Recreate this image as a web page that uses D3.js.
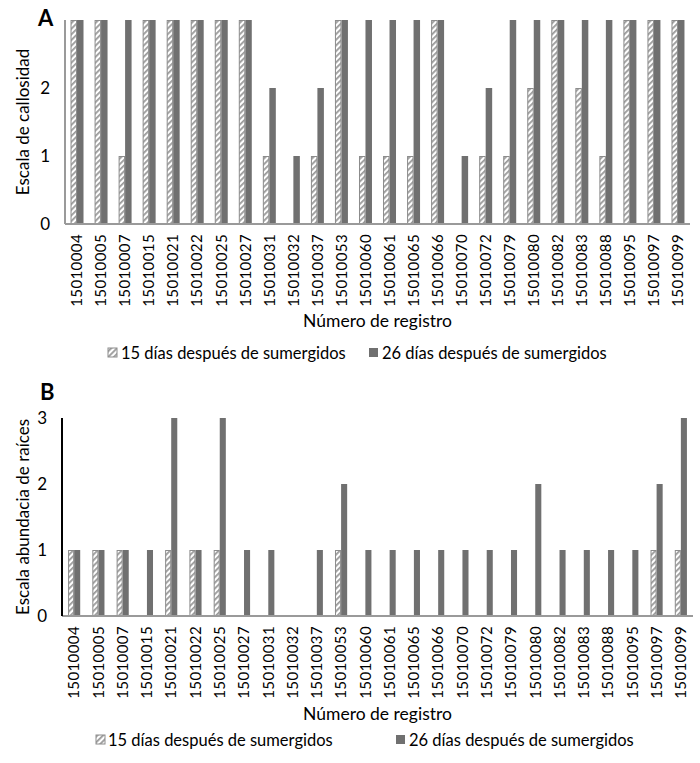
<!DOCTYPE html>
<html><head><meta charset="utf-8">
<script src="https://cdn.jsdelivr.net/npm/d3@7"></script>
<style>body{margin:0;background:#fff}svg{display:block}text{font-family:Lato,"Open Sans",sans-serif}</style>
</head><body>
<svg id="c" width="700" height="763"></svg>
<script>
const categories = ["15010004","15010005","15010007","15010015","15010021","15010022","15010025","15010027","15010031","15010032","15010037","15010053","15010060","15010061","15010065","15010066","15010070","15010072","15010079","15010080","15010082","15010083","15010088","15010095","15010097","15010099"];
const seriesNames = ["15 días después de sumergidos","26 días después de sumergidos"];
const callus15 = [3,3,1,3,3,3,3,3,1,0,1,3,1,1,1,3,0,1,1,2,3,2,1,3,3,3];
const callus26 = [3,3,3,3,3,3,3,3,2,1,2,3,3,3,3,3,1,2,3,3,3,3,3,3,3,3];
const roots15 = [1,1,1,0,1,1,1,0,0,0,0,1,0,0,0,0,0,0,0,0,0,0,0,0,1,1];
const roots26 = [1,1,1,1,3,1,3,1,1,0,1,2,1,1,1,1,1,1,1,2,1,1,1,1,2,3];
const ticksA = [0,1,2];
const ticksB = [0,1,2,3];

const svg = d3.select("#c");
const dark = "#707070";
const defs = svg.append("defs");
const pat = defs.append("pattern").attr("id","hatch").attr("patternUnits","userSpaceOnUse")
  .attr("width",4).attr("height",4).attr("patternTransform","rotate(45)");
pat.append("rect").attr("width",4).attr("height",4).attr("fill","#fff");
pat.append("rect").attr("width",1.8).attr("height",4).attr("fill","#9a9a9a");

function panel(cfg){
  const g = svg.append("g");
  const x0 = d3.scaleBand().domain(categories).range([cfg.left,cfg.right]).paddingInner(cfg.pad).paddingOuter(cfg.pad/2);
  const x1 = d3.scaleBand().domain([0,1]).range([0,x0.bandwidth()]);
  const y = d3.scaleLinear().domain([0,3]).range([cfg.bottom,cfg.top]);
  const rows = categories.map((c,i)=>({c, v:[cfg.s15[i], cfg.s26[i]]}));
  const grp = g.selectAll("g.cat").data(rows).join("g").attr("transform",d=>`translate(${x0(d.c)},0)`);
  grp.append("rect").attr("x",x1(1)).attr("width",x1.bandwidth())
    .attr("y",d=>y(d.v[1])).attr("height",d=>y(0)-y(d.v[1])).attr("fill",dark);
  grp.filter(d=>d.v[0]>0).append("rect").attr("x",x1(0)+0.5).attr("width",x1.bandwidth()-1)
    .attr("y",d=>y(d.v[0])+0.5).attr("height",d=>y(0)-y(d.v[0])-0.5)
    .attr("fill","url(#hatch)").attr("stroke","#8c8c8c").attr("stroke-width",1);
  const xa = g.append("g").attr("transform",`translate(0,${cfg.bottom})`)
    .call(d3.axisBottom(x0).tickSize(0).tickPadding(0));
  xa.select(".domain").attr("stroke","#9a9a9a").attr("stroke-width",2)
    .attr("d",`M${cfg.left},0H${cfg.right}`);
  xa.selectAll("text").attr("transform","rotate(-90)").attr("text-anchor","end")
    .attr("x",-10).attr("y",0).attr("dy","0.35em").attr("font-size",15).attr("fill","#000").style("letter-spacing","0.4px");
  const ya = g.append("g").attr("transform",`translate(${cfg.left},0)`)
    .call(d3.axisLeft(y).tickValues(cfg.ticks).tickFormat(d3.format("d")).tickSize(0).tickPadding(15));
  ya.select(".domain").attr("stroke",cfg.yAxisColor).attr("stroke-width",2)
    .attr("d",`M0,${cfg.top}V${cfg.bottom}`);
  ya.selectAll("text").attr("font-size",17).attr("fill","#000");
  g.append("text").attr("x",cfg.letterX).attr("y",cfg.letterY).attr("font-weight","bold").attr("font-size",22).attr("fill","#000").text(cfg.letter);
  g.append("text").attr("transform",`translate(${cfg.yTitleX},${(cfg.top+cfg.bottom)/2}) rotate(-90)`)
    .attr("text-anchor","middle").attr("font-size",17).attr("fill","#000").text(cfg.yTitle);
  g.append("text").attr("x",(cfg.left+cfg.right)/2).attr("y",cfg.xTitleY).attr("text-anchor","middle")
    .attr("font-size",17.5).attr("fill","#000").text("Número de registro");
  const lg = g.append("g");
  cfg.legend.forEach((l,i)=>{
    lg.append("rect").attr("x",l[0]).attr("y",cfg.legendY-11).attr("width",9).attr("height",9)
      .attr("fill", i===0 ? "url(#hatch)" : dark).attr("stroke", i===0 ? "#8c8c8c":"none");
    lg.append("text").attr("x",l[1]).attr("y",cfg.legendY).attr("font-size",16.5).attr("fill","#000").text(seriesNames[i]);
  });
}

panel({left:65,right:690,top:20,bottom:224,pad:0.46,s15:callus15,s26:callus26,ticks:ticksA,yAxisColor:"#9a9a9a",
  letter:"A",letterX:38,letterY:26,yTitle:"Escala de callosidad",yTitleX:29,xTitleY:327,legend:[[108,121],[369,382]],legendY:359});
panel({left:62,right:693,top:418,bottom:616,pad:0.5,s15:roots15,s26:roots26,ticks:ticksB,yAxisColor:"#000",
  letter:"B",letterX:40,letterY:400,yTitle:"Escala abundacia de raíces",yTitleX:29,xTitleY:720,legend:[[96,108],[396,409]],legendY:746});
</script>
</body></html>
